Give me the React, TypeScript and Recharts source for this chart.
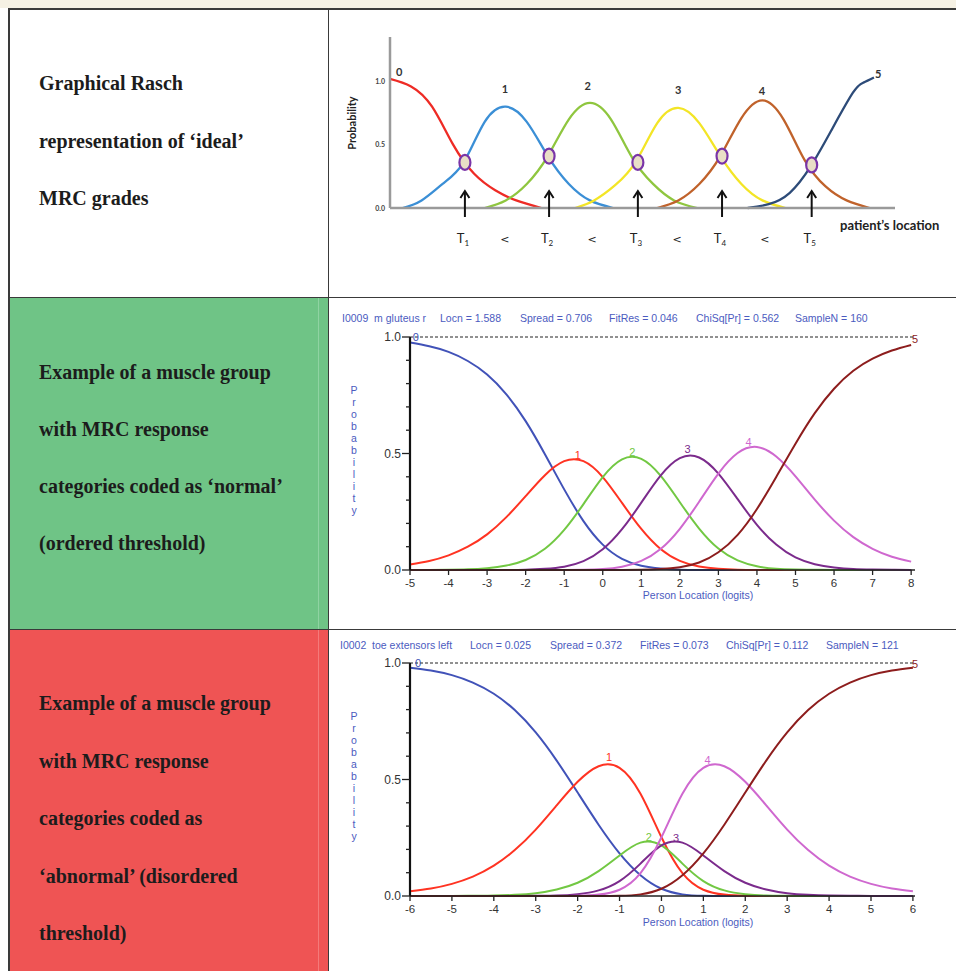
import React from 'react';
import { ComposedChart, Line, XAxis, YAxis, Scatter, ReferenceLine } from 'recharts';

// ---------- Chart 1: ideal Rasch curves (location units along the drawn axis) ----------
const idealLoc0 = [0, 0.5, 1.0, 1.5, 2.0, 2.5, 3.0, 3.6];
const idealP0 = [1.02, 0.96, 0.8, 0.5, 0.27, 0.14, 0.06, 0.0];
const idealLoc1 = [0.3, 0.75, 1.25, 1.75, 2.25, 2.75, 3.25, 3.75, 4.25, 4.75, 5.3];
const idealP1 = [0, 0.06, 0.19, 0.36, 0.68, 0.8, 0.68, 0.41, 0.19, 0.06, 0];
const idealLoc2 = [2.25, 2.75, 3.25, 3.75, 4.25, 4.75, 5.25, 5.75, 6.25, 6.75, 7.3];
const idealP2 = [0, 0.06, 0.19, 0.41, 0.7, 0.83, 0.7, 0.4, 0.19, 0.06, 0];
const idealLoc3 = [4.4, 4.85, 5.35, 5.85, 6.35, 6.85, 7.35, 7.85, 8.35, 8.85, 9.4];
const idealP3 = [0, 0.06, 0.18, 0.37, 0.67, 0.79, 0.67, 0.41, 0.19, 0.06, 0];
const idealLoc4 = [6.35, 6.85, 7.35, 7.85, 8.35, 8.85, 9.35, 9.85, 10.35, 10.85, 11.4];
const idealP4 = [0, 0.06, 0.19, 0.41, 0.71, 0.85, 0.7, 0.38, 0.17, 0.06, 0];
const idealLoc5 = [8.5, 9.0, 9.5, 10.0, 10.5, 11.0, 11.25, 11.5];
const idealP5 = [0, 0.03, 0.12, 0.33, 0.62, 0.91, 0.99, 1.03];

const thresholdLocs = [1.78, 3.78, 5.89, 7.89, 10.02];
const thresholdProbs = [0.36, 0.41, 0.36, 0.41, 0.34];

const idealTickLocs = [1.78, 2.73, 3.78, 4.8, 5.89, 6.82, 7.89, 8.91, 10.02];
const idealTickLabels = ['T1', '<', 'T2', '<', 'T3', '<', 'T4', '<', 'T5'];

const idealCurveLabels = ['0', '1', '2', '3', '4', '5'];
const idealCurveLabelLocs = [0.22, 2.73, 4.7, 6.85, 8.84, 11.6];
const idealCurveLabelProbs = [1.07, 0.94, 0.96, 0.93, 0.92, 1.06];
const idealColors = ['#ee2b25', '#3b8fd6', '#8fc63f', '#f3e526', '#c0622b', '#2d4b78'];

// ---------- Chart 2: m gluteus r (ordered thresholds) ----------
const gluteusLoc = [-5, -4.5, -4, -3.5, -3, -2.5, -2, -1.5, -1, -0.5, 0, 0.5, 1, 1.5, 2, 2.5, 3, 3.5, 4, 4.5, 5, 5.5, 6, 6.5, 7, 7.5, 8];
const gluteusP0 = [0.976, 0.96, 0.936, 0.897, 0.839, 0.754, 0.639, 0.497, 0.346, 0.21, 0.109, 0.048, 0.018, 0.006, 0.001, 0, 0, 0, 0, 0, 0, 0, 0, 0, 0, 0, 0];
const gluteusP1 = [0.024, 0.039, 0.063, 0.1, 0.153, 0.227, 0.317, 0.407, 0.467, 0.467, 0.399, 0.288, 0.176, 0.09, 0.039, 0.015, 0.005, 0.001, 0, 0, 0, 0, 0, 0, 0, 0, 0];
const gluteusP2 = [0, 0, 0.001, 0.003, 0.008, 0.019, 0.043, 0.091, 0.172, 0.283, 0.399, 0.475, 0.477, 0.405, 0.291, 0.178, 0.092, 0.041, 0.016, 0.005, 0.002, 0.001, 0, 0, 0, 0, 0];
const gluteusP3 = [0, 0, 0, 0, 0, 0, 0.001, 0.005, 0.014, 0.038, 0.089, 0.175, 0.289, 0.405, 0.48, 0.483, 0.414, 0.304, 0.194, 0.109, 0.054, 0.025, 0.011, 0.004, 0.002, 0.001, 0];
const gluteusP4 = [0, 0, 0, 0, 0, 0, 0, 0, 0, 0.001, 0.004, 0.014, 0.039, 0.09, 0.177, 0.293, 0.414, 0.502, 0.528, 0.487, 0.402, 0.302, 0.212, 0.141, 0.091, 0.057, 0.036];
const gluteusP5 = [0, 0, 0, 0, 0, 0, 0, 0, 0, 0, 0, 0, 0.001, 0.004, 0.012, 0.032, 0.076, 0.151, 0.262, 0.399, 0.542, 0.673, 0.778, 0.855, 0.907, 0.942, 0.966];
const gluteusTicks = [-5, -4, -3, -2, -1, 0, 1, 2, 3, 4, 5, 6, 7, 8];
const gluteusLabelLocs = [-4.85, -0.65, 0.77, 2.2, 3.78, 8.1];
const gluteusLabelProbs = [1.0, 0.495, 0.505, 0.52, 0.55, 0.99];
const gluteusTitle = ['I0009  m gluteus r', 'Locn = 1.588', 'Spread = 0.706', 'FitRes = 0.046', 'ChiSq[Pr] = 0.562', 'SampleN = 160'];

// ---------- Chart 3: toe extensors left (disordered thresholds) ----------
const toeLoc = [-6, -5.5, -5, -4.5, -4, -3.5, -3, -2.5, -2, -1.5, -1, -0.5, 0, 0.5, 1, 1.5, 2, 2.5, 3, 3.5, 4, 4.5, 5, 5.5, 6];
const toeP0 = [0.98, 0.968, 0.948, 0.916, 0.868, 0.798, 0.702, 0.581, 0.444, 0.306, 0.183, 0.089, 0.031, 0.007, 0.001, 0, 0, 0, 0, 0, 0, 0, 0, 0, 0];
const toeP1 = [0.02, 0.032, 0.052, 0.083, 0.13, 0.197, 0.285, 0.389, 0.49, 0.557, 0.55, 0.439, 0.252, 0.098, 0.027, 0.006, 0.001, 0, 0, 0, 0, 0, 0, 0, 0];
const toeP2 = [0, 0, 0, 0.001, 0.002, 0.005, 0.012, 0.028, 0.057, 0.107, 0.174, 0.229, 0.217, 0.139, 0.064, 0.024, 0.008, 0.002, 0.001, 0, 0, 0, 0, 0, 0];
const toeP3 = [0, 0, 0, 0, 0, 0, 0.001, 0.002, 0.008, 0.024, 0.064, 0.139, 0.217, 0.229, 0.174, 0.107, 0.057, 0.028, 0.012, 0.005, 0.002, 0.001, 0, 0, 0];
const toeP4 = [0, 0, 0, 0, 0, 0, 0, 0, 0.001, 0.006, 0.027, 0.098, 0.252, 0.439, 0.55, 0.557, 0.49, 0.389, 0.285, 0.197, 0.13, 0.083, 0.052, 0.032, 0.02];
const toeP5 = [0, 0, 0, 0, 0, 0, 0, 0, 0, 0, 0.001, 0.007, 0.031, 0.089, 0.183, 0.306, 0.444, 0.581, 0.702, 0.798, 0.868, 0.916, 0.948, 0.968, 0.98];
const toeTicks = [-6, -5, -4, -3, -2, -1, 0, 1, 2, 3, 4, 5, 6];
const toeLabelLocs = [-5.81, -1.25, -0.3, 0.35, 1.1, 6.05];
const toeLabelProbs = [1.0, 0.595, 0.255, 0.25, 0.585, 0.995];
const toeTitle = ['I0002  toe extensors left', 'Locn = 0.025', 'Spread = 0.372', 'FitRes = 0.073', 'ChiSq[Pr] = 0.112', 'SampleN = 121'];

const rummColors = ['#4152b8', '#ff3322', '#72c843', '#7b2b8c', '#cf68cf', '#8d1d1d'];
const rummLabels = ['0', '1', '2', '3', '4', '5'];
const rummMinorTicks = [0, 0.1, 0.2, 0.3, 0.4, 0.5, 0.6, 0.7, 0.8, 0.9, 1.0];
const probLetters = ['P', 'r', 'o', 'b', 'a', 'b', 'i', 'l', 'i', 't', 'y'];

const zip = (xs: number[], ys: number[]) => xs.map((x, i) => ({ x, p: ys[i] }));

const serif = "'Liberation Serif', 'Times New Roman', serif";
const calibri = "Lato, 'Open Sans', sans-serif";
const narrow = "'Liberation Sans Narrow', 'Liberation Sans', Arial, sans-serif";

// ---------- custom ticks / shapes ----------
const IdealXTick = (props: any) => {
  const { x, y, payload } = props;
  const i = idealTickLocs.indexOf(payload.value);
  const lab = idealTickLabels[i] || '';
  if (lab === '<') {
    return (
      <text x={x} y={y + 35} textAnchor="middle" fontFamily="'DejaVu Sans', sans-serif" fontSize={11} fill="#222">&lt;</text>
    );
  }
  return (
    <text x={x - 2} y={y + 35} textAnchor="middle" fontFamily={calibri} fontSize={13} fill="#222">
      {lab.charAt(0)}
      <tspan fontSize={8} dy={3}>{lab.slice(1)}</tspan>
    </text>
  );
};

const IdealYTick = (props: any) => {
  const { x, y, payload } = props;
  return (
    <text x={x - 5} y={y + 2.5} textAnchor="end" fontFamily={calibri} fontSize={7} fontWeight={700} fill="#444">
      {Number(payload.value).toFixed(1)}
    </text>
  );
};

const ThresholdRing = (props: any) => {
  const { cx, cy } = props;
  return <ellipse cx={cx} cy={cy} rx={5.5} ry={7.5} fill="#e9dfc6" stroke="#7a35a8" strokeWidth={2.2} />;
};

const ThresholdArrow = (props: any) => {
  const { cx, cy } = props;
  return (
    <g stroke="#111" strokeWidth={2} fill="none">
      <line x1={cx} y1={cy + 9} x2={cx} y2={cy - 16} />
      <path d={`M ${cx - 4.5} ${cy - 10} L ${cx} ${cy - 17} L ${cx + 4.5} ${cy - 10}`} />
    </g>
  );
};

const IdealCurveLabel = (props: any) => {
  const { cx, cy, payload } = props;
  return (
    <text x={cx} y={cy + 4} textAnchor="middle" fontFamily={calibri} fontSize={11} fontWeight={700} fill="#333">
      {payload.label}
    </text>
  );
};

const RummYTick = (props: any) => {
  const { x, y, payload } = props;
  const v = Math.round(payload.value * 10) / 10;
  const major = v === 0 || v === 0.5 || v === 1;
  return (
    <g>
      <line x1={x - (major ? 8 : 4)} x2={x} y1={y} y2={y} stroke="#222" strokeWidth={1.3} />
      {major && (
        <text x={x - 9} y={y + 4} textAnchor="end" fontFamily={narrow} fontSize={12} fill="#333">
          {v.toFixed(1)}
        </text>
      )}
    </g>
  );
};

const RummXTick = (props: any) => {
  const { x, y, payload } = props;
  return (
    <g>
      <line x1={x} x2={x} y1={y} y2={y + 5} stroke="#222" strokeWidth={1.3} />
      <text x={x} y={y + 17} textAnchor="middle" fontFamily={narrow} fontSize={11.5} fill="#333">
        {payload.value}
      </text>
    </g>
  );
};

const RummLabel = (props: any) => {
  const { cx, cy, payload } = props;
  return (
    <text x={cx} y={cy + 4} textAnchor="middle" fontFamily={narrow} fontSize={11} fill={rummColors[payload.idx]}>
      {payload.label}
    </text>
  );
};

// ---------- charts ----------
const IdealChart = () => {
  const curves = [
    zip(idealLoc0, idealP0),
    zip(idealLoc1, idealP1),
    zip(idealLoc2, idealP2),
    zip(idealLoc3, idealP3),
    zip(idealLoc4, idealP4),
    zip(idealLoc5, idealP5),
  ];
  const rings = zip(thresholdLocs, thresholdProbs);
  const arrows = thresholdLocs.map((x) => ({ x, p: 0 }));
  const labels = idealCurveLabels.map((label, i) => ({ x: idealCurveLabelLocs[i], p: idealCurveLabelProbs[i], label }));
  return (
    <ComposedChart width={620} height={240} margin={{ top: 17, right: 55, bottom: 22, left: 30 }}>
      <XAxis
        type="number"
        dataKey="x"
        domain={[0, 12]}
        ticks={idealTickLocs}
        interval={0}
        tick={IdealXTick}
        tickLine={false}
        tickSize={0}
        tickMargin={0}
        height={30}
        axisLine={{ stroke: '#9a9a9a', strokeWidth: 2.5 }}
      />
      <YAxis
        type="number"
        dataKey="p"
        domain={[0, 1.35]}
        ticks={[0, 0.5, 1.0]}
        interval={0}
        tick={IdealYTick}
        tickLine={false}
        tickSize={0}
        tickMargin={0}
        width={30}
        axisLine={{ stroke: '#9a9a9a', strokeWidth: 2.5 }}
      />
      {curves.map((d, i) => (
        <Line key={i} data={d} dataKey="p" type="natural" stroke={idealColors[i]} strokeWidth={2.3} dot={false} isAnimationActive={false} />
      ))}
      <Scatter data={arrows} dataKey="p" shape={ThresholdArrow} isAnimationActive={false} />
      <Scatter data={rings} dataKey="p" shape={ThresholdRing} isAnimationActive={false} />
      <Scatter data={labels} dataKey="p" shape={IdealCurveLabel} isAnimationActive={false} />
    </ComposedChart>
  );
};

const RummChart = (props: {
  loc: number[];
  series: number[][];
  ticks: number[];
  domain: [number, number];
  labelLocs: number[];
  labelProbs: number[];
}) => {
  const { loc, series, ticks, domain, labelLocs, labelProbs } = props;
  const rows = loc.map((x, i) => {
    const r: any = { x };
    series.forEach((s, k) => {
      r['p' + k] = s[i];
    });
    return r;
  });
  const labels = rummLabels.map((label, i) => ({ x: labelLocs[i], p: labelProbs[i], label, idx: i }));
  return (
    <ComposedChart width={626} height={285} data={rows} margin={{ top: 12, right: 41, bottom: 10, left: 40 }}>
      <XAxis
        type="number"
        dataKey="x"
        domain={domain}
        ticks={ticks}
        interval={0}
        tick={RummXTick}
        tickLine={false}
        tickSize={0}
        tickMargin={0}
        height={30}
        axisLine={{ stroke: '#222', strokeWidth: 1.5 }}
      />
      <YAxis
        type="number"
        domain={[0, 1]}
        ticks={rummMinorTicks}
        interval={0}
        tick={RummYTick}
        tickLine={false}
        tickSize={0}
        tickMargin={0}
        width={40}
        axisLine={{ stroke: '#111', strokeWidth: 2.2 }}
      />
      <ReferenceLine y={1} stroke="#222" strokeWidth={1} strokeDasharray="3 2" />
      {series.map((_, k) => (
        <Line key={k} dataKey={'p' + k} type="natural" stroke={rummColors[k]} strokeWidth={2} dot={false} isAnimationActive={false} />
      ))}
      <Scatter data={labels} dataKey="p" shape={RummLabel} isAnimationActive={false} />
    </ComposedChart>
  );
};

const titleXs = [
  [342, 440, 520, 609, 696, 795],
  [340, 470, 550, 640, 726, 826],
];

const Title = ({ parts, xs, top }: { parts: string[]; xs: number[]; top: number }) => (
  <>
    {parts.map((t, i) => (
      <div
        key={i}
        style={{ position: 'absolute', left: xs[i], top, fontFamily: narrow, fontSize: 10.5, color: '#4b5bc0', whiteSpace: 'pre', lineHeight: '12px' }}
      >
        {t}
      </div>
    ))}
  </>
);

const VerticalProb = ({ left, top }: { left: number; top: number }) => (
  <>
    {probLetters.map((c, i) => (
      <div
        key={i}
        style={{ position: 'absolute', left: left - 6, width: 12, textAlign: 'center', top: top + i * 12, fontFamily: narrow, fontSize: 10.5, color: '#4b5bc0', lineHeight: '12px' }}
      >
        {c}
      </div>
    ))}
  </>
);

const leftLines: { text: string; y: number }[] = [
  { text: 'Graphical Rasch', y: 83 },
  { text: 'representation of \u2018ideal\u2019', y: 141 },
  { text: 'MRC grades', y: 198 },
  { text: 'Example of a muscle group', y: 372 },
  { text: 'with MRC response', y: 429 },
  { text: 'categories coded as \u2018normal\u2019', y: 486 },
  { text: '(ordered threshold)', y: 543 },
  { text: 'Example of a muscle group', y: 703 },
  { text: 'with MRC response', y: 761 },
  { text: 'categories coded as', y: 818 },
  { text: '\u2018abnormal\u2019 (disordered', y: 876 },
  { text: 'threshold)', y: 933 },
];

export default function App() {
  const line = '#3a3a3a';
  return (
    <div style={{ position: 'absolute', left: 0, top: 0, width: 956, height: 971, background: '#ffffff', overflow: 'hidden' }}>
      <div style={{ position: 'absolute', left: 0, top: 0, width: 956, height: 8, background: '#f5f1e4' }} />
      <div style={{ position: 'absolute', left: 10, top: 298, width: 318, height: 331, background: '#6fc486' }} />
      <div style={{ position: 'absolute', left: 10, top: 630, width: 318, height: 341, background: '#ef5454' }} />
      <div style={{ position: 'absolute', left: 318, top: 298, width: 1, height: 331, background: '#8fd3a2' }} />
      <div style={{ position: 'absolute', left: 318, top: 630, width: 1, height: 341, background: '#f47a7a' }} />
      <div style={{ position: 'absolute', left: 8, top: 8, width: 948, height: 1.5, background: line }} />
      <div style={{ position: 'absolute', left: 8, top: 8, width: 1.5, height: 963, background: line }} />
      <div style={{ position: 'absolute', left: 327.5, top: 8, width: 1.5, height: 963, background: line }} />
      <div style={{ position: 'absolute', left: 8, top: 296.5, width: 948, height: 1.5, background: line }} />
      <div style={{ position: 'absolute', left: 8, top: 628.5, width: 948, height: 1.5, background: line }} />

      {leftLines.map((l, i) => (
        <div
          key={i}
          style={{ position: 'absolute', left: 39, top: l.y - 12, fontFamily: serif, fontWeight: 700, fontSize: 20, lineHeight: '24px', color: '#1c1c1c', whiteSpace: 'pre' }}
        >
          {l.text}
        </div>
      ))}

      {/* Chart 1 */}
      <div style={{ position: 'absolute', left: 330, top: 20 }}>
        <IdealChart />
      </div>
      <div
        style={{ position: 'absolute', left: 352 - 40, top: 123 - 8, width: 80, height: 16, textAlign: 'center', transform: 'rotate(-90deg)', fontFamily: calibri, fontWeight: 700, fontSize: 11, lineHeight: '16px', color: '#222' }}
      >
        Probability
      </div>
      <div style={{ position: 'absolute', left: 840, top: 218, fontFamily: calibri, fontWeight: 700, fontSize: 13, lineHeight: '15px', color: '#222', whiteSpace: 'pre' }}>
        patient{'\u2019'}s location
      </div>

      {/* Chart 2 */}
      <Title parts={gluteusTitle} xs={titleXs[0]} top={312} />
      <div style={{ position: 'absolute', left: 330, top: 325 }}>
        <RummChart
          loc={gluteusLoc}
          series={[gluteusP0, gluteusP1, gluteusP2, gluteusP3, gluteusP4, gluteusP5]}
          ticks={gluteusTicks}
          domain={[-5, 8]}
          labelLocs={gluteusLabelLocs}
          labelProbs={gluteusLabelProbs}
        />
      </div>
      <VerticalProb left={354} top={384} />
      <div style={{ position: 'absolute', left: 598, width: 200, top: 589, textAlign: 'center', fontFamily: narrow, fontSize: 10.5, color: '#4b5bc0', lineHeight: '12px' }}>
        Person Location (logits)
      </div>

      {/* Chart 3 */}
      <Title parts={toeTitle} xs={titleXs[1]} top={639} />
      <div style={{ position: 'absolute', left: 330, top: 651 }}>
        <RummChart
          loc={toeLoc}
          series={[toeP0, toeP1, toeP2, toeP3, toeP4, toeP5]}
          ticks={toeTicks}
          domain={[-6, 6]}
          labelLocs={toeLabelLocs}
          labelProbs={toeLabelProbs}
        />
      </div>
      <VerticalProb left={354} top={710} />
      <div style={{ position: 'absolute', left: 598, width: 200, top: 916, textAlign: 'center', fontFamily: narrow, fontSize: 10.5, color: '#4b5bc0', lineHeight: '12px' }}>
        Person Location (logits)
      </div>
    </div>
  );
}
